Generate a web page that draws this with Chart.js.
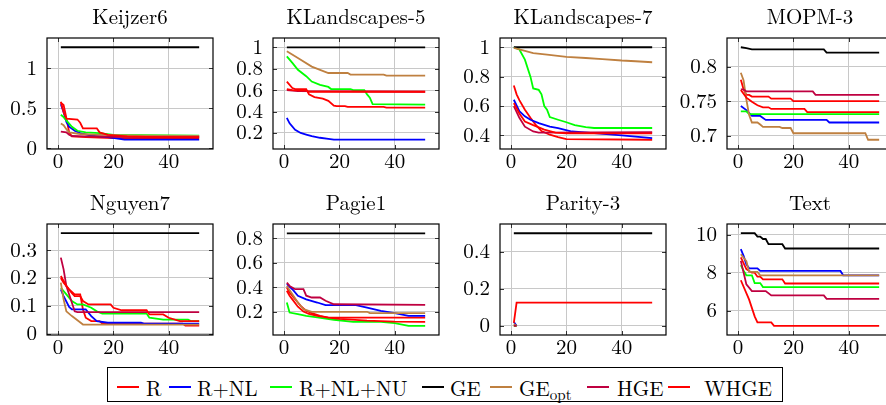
<!DOCTYPE html>
<html><head><meta charset="utf-8">
<script src="https://cdn.jsdelivr.net/npm/chart.js@4"></script>
<style>
html,body{margin:0;padding:0;width:886px;height:405px;overflow:hidden;background:#fff;font-family:'Latin Modern Roman','CMU Serif','Liberation Serif','DejaVu Serif','Noto Serif','FreeSerif','Nimbus Roman','TeX Gyre Termes','Times New Roman',Times,serif;position:relative;}
canvas.pan{position:absolute;}
#legend{position:absolute;left:107px;top:367px;width:676px;height:35px;border:1px solid #000;box-sizing:border-box;}
.sw{position:absolute;top:18px;height:2px;width:22px;}
.lt{position:absolute;top:9px;font-size:21px;line-height:21px;color:#000;white-space:nowrap;}
.lt .sb{font-size:15px;line-height:0;vertical-align:baseline;position:relative;top:4px;}
</style>
</head><body>
<div id="legend">
  <div class="sw" style="left:9px;background:#ff0000"></div><div class="lt" style="left:38px">R</div>
  <div class="sw" style="left:61px;background:#0000ff"></div><div class="lt" style="left:89px">R+NL</div>
  <div class="sw" style="left:162px;background:#00ff00"></div><div class="lt" style="left:191px">R+NL+NU</div>
  <div class="sw" style="left:314px;background:#000000"></div><div class="lt" style="left:342px">GE</div>
  <div class="sw" style="left:382px;background:#bf8040"></div><div class="lt" style="left:411px">GE<span class="sb">opt</span></div>
  <div class="sw" style="left:479px;background:#bf0040"></div><div class="lt" style="left:509px">HGE</div>
  <div class="sw" style="left:560px;background:#ff0000"></div><div class="lt" style="left:596px">WHGE</div>
</div>
<script>
// ---------- data ----------
const seriesNames = ['R','R+NL','R+NL+NU','GE','GE_opt','HGE','WHGE'];
const titles = ['Keijzer6','KLandscapes-5','KLandscapes-7','MOPM-3','Nguyen7','Pagie1','Parity-3','Text'];
const xTicks = [0,20,40];
const yTicks = [[0,0.5,1],[0.2,0.4,0.6,0.8,1],[0.4,0.6,0.8,1],[0.7,0.75,0.8],[0,0.1,0.2,0.3],[0.2,0.4,0.6,0.8],[0,0.2,0.4],[6,8,10]];
const yTickLabels = [['0','0.5','1'],['0.2','0.4','0.6','0.8','1'],['0.4','0.6','0.8','1'],['0.7','0.75','0.8'],['0','0.1','0.2','0.3'],['0.2','0.4','0.6','0.8'],['0','0.2','0.4'],['6','8','10']];
const yLimits = [[-0.007,1.375],[0.05,1.087],[0.308,1.063],[0.6806,0.8414],[-0.005,0.394],[0.008,0.917],[-0.05,0.55],[4.72,10.56]];
const xLimits = [-4,56];

// Keijzer6
const k6_R     = [[1,0.57],[2,0.54],[3,0.38],[4,0.2],[5,0.15],[10,0.14],[20,0.13],[51,0.125]];
const k6_RNL   = [[1,0.55],[2,0.45],[3,0.33],[4,0.27],[6,0.22],[8,0.19],[12,0.16],[18,0.14],[24,0.11],[51,0.11]];
const k6_RNLNU = [[1,0.42],[2,0.39],[3,0.35],[5,0.27],[7,0.22],[10,0.2],[15,0.19],[20,0.17],[30,0.165],[51,0.16]];
const k6_GE    = [[1,1.26],[51,1.26]];
const k6_GEopt = [[1,0.31],[2,0.29],[3,0.24],[4,0.2],[8,0.18],[15,0.17],[30,0.16],[51,0.155]];
const k6_HGE   = [[1,0.21],[3,0.2],[4,0.17],[5,0.155],[10,0.15],[20,0.145],[51,0.14]];
const k6_WHGE  = [[1,0.58],[2,0.45],[3,0.37],[7,0.36],[8,0.32],[9,0.25],[14,0.25],[15,0.2],[18,0.17],[25,0.15],[35,0.14],[51,0.14]];

// KLandscapes-5
const kl5_R     = [[1,0.68],[3,0.62],[4,0.61],[8,0.61],[9,0.56],[11,0.535],[14,0.52],[16,0.5],[18,0.455],[19,0.45],[22,0.45],[23,0.443],[36,0.443],[37,0.436],[51,0.436]];
const kl5_RNL   = [[1,0.34],[2,0.29],[4,0.23],[6,0.2],[8,0.185],[10,0.17],[13,0.155],[16,0.145],[18,0.137],[51,0.137]];
const kl5_RNLNU = [[1,0.916],[3,0.854],[5,0.79],[8,0.73],[10,0.68],[13,0.65],[16,0.63],[17,0.61],[24,0.61],[25,0.6],[29,0.6],[30,0.56],[31,0.53],[32,0.47],[51,0.465]];
const kl5_GE    = [[1,1.0],[51,1.0]];
const kl5_GEopt = [[1,0.963],[5,0.9],[10,0.82],[13,0.79],[16,0.76],[23,0.76],[24,0.745],[36,0.745],[37,0.735],[51,0.735]];
const kl5_HGE   = [[1,0.6],[3,0.595],[5,0.59],[51,0.585]];
const kl5_WHGE  = [[1,0.61],[3,0.6],[5,0.598],[8,0.596],[9,0.585],[51,0.585]];

// KLandscapes-7
const kl7_R     = [[1,0.74],[2,0.68],[3,0.64],[5,0.575],[7,0.52],[9,0.47],[11,0.43],[14,0.405],[17,0.389],[20,0.375],[51,0.371]];
const kl7_RNL   = [[1,0.643],[3,0.565],[5,0.53],[7,0.507],[10,0.484],[14,0.46],[17,0.45],[22,0.427],[30,0.416],[40,0.4],[51,0.382]];
const kl7_RNLNU = [[1,1.0],[3,0.985],[5,0.916],[7,0.8],[8,0.72],[10,0.71],[11,0.68],[12,0.6],[13,0.575],[14,0.525],[17,0.507],[20,0.49],[23,0.47],[27,0.457],[30,0.451],[51,0.451]];
const kl7_GE    = [[1,1.0],[51,1.0]];
const kl7_GEopt = [[1,0.995],[3,0.985],[8,0.96],[13,0.95],[20,0.934],[27,0.927],[33,0.92],[40,0.91],[45,0.905],[51,0.898]];
const kl7_HGE   = [[1,0.6],[3,0.52],[5,0.46],[8,0.427],[10,0.42],[51,0.423]];
const kl7_WHGE  = [[1,0.62],[3,0.55],[5,0.495],[8,0.47],[12,0.44],[16,0.42],[20,0.415],[51,0.414]];

// MOPM-3
const mo_R     = [[1,0.781],[2,0.767],[3,0.759],[4,0.759],[5,0.7565],[11,0.7565],[12,0.7536],[19,0.7536],[20,0.75],[51,0.75]];
const mo_RNL   = [[1,0.743],[3,0.737],[5,0.7285],[8,0.7285],[10,0.7227],[32,0.7227],[33,0.719],[51,0.719]];
const mo_RNLNU = [[1,0.735],[3,0.735],[4,0.731],[51,0.731]];
const mo_GE    = [[1,0.828],[3,0.8266],[5,0.825],[31,0.825],[32,0.8203],[51,0.8203]];
const mo_GEopt = [[1,0.791],[2,0.78],[3,0.752],[4,0.73],[5,0.719],[7,0.719],[8,0.716],[9,0.7126],[15,0.7126],[16,0.711],[19,0.711],[20,0.7034],[46,0.7034],[47,0.694],[51,0.694]];
const mo_HGE   = [[1,0.767],[2,0.767],[3,0.764],[27,0.764],[28,0.759],[51,0.759]];
const mo_WHGE  = [[1,0.766],[3,0.755],[5,0.749],[7,0.744],[9,0.741],[11,0.741],[12,0.7386],[24,0.7386],[25,0.734],[51,0.734]];

// Nguyen7
const ng_R     = [[1,0.2],[2,0.183],[4,0.159],[6,0.141],[8,0.141],[9,0.087],[10,0.057],[12,0.045],[15,0.045],[16,0.036],[45,0.036],[46,0.029],[51,0.029]];
const ng_RNL   = [[1,0.159],[2,0.135],[4,0.096],[5,0.087],[10,0.087],[12,0.063],[14,0.045],[18,0.039],[30,0.039],[31,0.036],[51,0.036]];
const ng_RNLNU = [[1,0.165],[3,0.141],[5,0.117],[7,0.105],[9,0.105],[12,0.093],[14,0.08],[16,0.072],[32,0.072],[33,0.057],[38,0.05],[47,0.05],[48,0.045],[51,0.045]];
const ng_GE    = [[1,0.361],[51,0.361]];
const ng_GEopt = [[1,0.183],[2,0.123],[3,0.08],[5,0.063],[7,0.048],[9,0.0325],[51,0.0325]];
const ng_HGE   = [[1,0.273],[2,0.231],[3,0.171],[5,0.111],[6,0.08],[7,0.077],[51,0.077]];
const ng_WHGE  = [[1,0.207],[3,0.171],[5,0.145],[6,0.135],[8,0.135],[9,0.117],[11,0.105],[19,0.105],[20,0.093],[23,0.084],[32,0.084],[33,0.069],[38,0.069],[40,0.057],[44,0.045],[51,0.045]];

// Pagie1
const pa_R     = [[1,0.397],[2,0.356],[4,0.301],[6,0.247],[8,0.206],[10,0.187],[13,0.165],[16,0.15],[51,0.15]];
const pa_RNL   = [[1,0.424],[3,0.383],[5,0.329],[8,0.3],[12,0.274],[15,0.252],[26,0.252],[30,0.233],[35,0.206],[40,0.187],[45,0.165],[51,0.165]];
const pa_RNLNU = [[1,0.274],[2,0.192],[5,0.179],[8,0.165],[12,0.152],[18,0.133],[25,0.116],[35,0.116],[40,0.105],[45,0.083],[51,0.083]];
const pa_GE    = [[1,0.841],[51,0.841]];
const pa_GEopt = [[1,0.41],[3,0.342],[5,0.274],[7,0.22],[10,0.198],[30,0.198],[31,0.187],[51,0.187]];
const pa_HGE   = [[1,0.437],[2,0.41],[4,0.383],[7,0.383],[8,0.33],[10,0.315],[13,0.315],[15,0.288],[18,0.26],[51,0.255]];
const pa_WHGE  = [[1,0.37],[2,0.33],[3,0.3],[5,0.24],[7,0.2],[9,0.18],[12,0.165],[16,0.15],[20,0.14],[30,0.126],[40,0.118],[51,0.116]];

// Parity-3
const pr_R     = [[1,0],[2,0]];
const pr_RNL   = [[1,0.02],[2,0]];
const pr_RNLNU = [[1,0],[2,0]];
const pr_GE    = [[1,0.5],[51,0.5]];
const pr_GEopt = [[1,0.01],[2,0]];
const pr_HGE   = [[1,0],[2,0]];
const pr_WHGE  = [[1,0.015],[2,0.125],[51,0.125]];

// Text
const tx_R     = [[1,8.8],[3,8.18],[5,8.0],[6,8.0],[7,7.79],[8,7.79],[9,7.65],[16,7.65],[17,7.43],[51,7.43]];
const tx_RNL   = [[1,9.24],[2,8.88],[3,8.44],[4,8.23],[7,8.23],[8,8.09],[37,8.09],[38,7.86],[51,7.86]];
const tx_RNLNU = [[1,8.4],[2,8.1],[3,7.86],[5,7.86],[6,7.45],[8,7.45],[9,7.24],[51,7.24]];
const tx_GE    = [[1,10.08],[6,10.08],[7,9.9],[8,9.9],[9,9.77],[10,9.77],[11,9.5],[16,9.5],[17,9.27],[51,9.27]];
const tx_GEopt = [[1,8.97],[3,8.6],[4,8.04],[7,8.04],[8,7.86],[51,7.86]];
const tx_HGE   = [[1,8.62],[3,7.38],[5,7.03],[10,7.03],[12,6.8],[31,6.8],[32,6.62],[51,6.62]];
const tx_WHGE  = [[1,7.6],[4,6.58],[6,5.7],[7,5.38],[12,5.38],[13,5.2],[51,5.2]];

const panelSeries = [
  [k6_R,k6_RNL,k6_RNLNU,k6_GE,k6_GEopt,k6_HGE,k6_WHGE],
  [kl5_R,kl5_RNL,kl5_RNLNU,kl5_GE,kl5_GEopt,kl5_HGE,kl5_WHGE],
  [kl7_R,kl7_RNL,kl7_RNLNU,kl7_GE,kl7_GEopt,kl7_HGE,kl7_WHGE],
  [mo_R,mo_RNL,mo_RNLNU,mo_GE,mo_GEopt,mo_HGE,mo_WHGE],
  [ng_R,ng_RNL,ng_RNLNU,ng_GE,ng_GEopt,ng_HGE,ng_WHGE],
  [pa_R,pa_RNL,pa_RNLNU,pa_GE,pa_GEopt,pa_HGE,pa_WHGE],
  [pr_R,pr_RNL,pr_RNLNU,pr_GE,pr_GEopt,pr_HGE,pr_WHGE],
  [tx_R,tx_RNL,tx_RNLNU,tx_GE,tx_GEopt,tx_HGE,tx_WHGE]
];

// ---------- styles / layout ----------
const colors = ['#ff0000','#0000ff','#00ff00','#000000','#bf8040','#bf0040','#ff0000'];
const FONT = "'Latin Modern Roman', 'CMU Serif', 'Liberation Serif', 'DejaVu Serif', 'Noto Serif', 'FreeSerif', 'Nimbus Roman', 'TeX Gyre Termes', 'Times New Roman', Times, serif";
const colLeft = [47,273,500,727];
const rowTop = [38,224];
const PW = 166, PH = 111, AXW = 47, TITLEH = 33, XAXH = 28;

const framePlugin = {
  id:'frame',
  beforeDatasetsDraw(chart){
    const {ctx, chartArea:a, scales} = chart;
    ctx.save();
    ctx.strokeStyle = '#333'; ctx.lineWidth = 1;
    ctx.beginPath();
    scales.x.ticks.forEach(t=>{
      const p = Math.round(scales.x.getPixelForValue(t.value))+0.5;
      ctx.moveTo(p,a.bottom); ctx.lineTo(p,a.bottom-4);
      ctx.moveTo(p,a.top); ctx.lineTo(p,a.top+4);
    });
    scales.y.ticks.forEach(t=>{
      const p = Math.round(scales.y.getPixelForValue(t.value))+0.5;
      ctx.moveTo(a.left,p); ctx.lineTo(a.left+4,p);
      ctx.moveTo(a.right,p); ctx.lineTo(a.right-4,p);
    });
    ctx.stroke();
    ctx.restore();
  },
  afterDraw(chart){
    const {ctx, chartArea:a} = chart;
    ctx.save();
    ctx.strokeStyle = '#000'; ctx.lineWidth = 1.2;
    ctx.strokeRect(a.left, a.top, a.right-a.left, a.bottom-a.top);
    ctx.restore();
  }
};

function build(){
titles.forEach((title, i) => {
  const col = i % 4, row = Math.floor(i / 4);
  const L = colLeft[col], T = rowTop[row];
  const cv = document.createElement('canvas');
  cv.className = 'pan';
  const w = AXW + PW + AXW, h = TITLEH + PH + XAXH;
  cv.width = w; cv.height = h;
  cv.style.left = (L - AXW) + 'px';
  cv.style.top = (T - TITLEH) + 'px';
  cv.style.width = w + 'px'; cv.style.height = h + 'px';
  document.body.appendChild(cv);
  const yt = yTicks[i], ytl = yTickLabels[i];
  new Chart(cv.getContext('2d'), {
    type: 'line',
    data: {
      datasets: panelSeries[i].map((d, k) => ({
        label: seriesNames[k],
        data: d.map(p => ({x: p[0], y: p[1]})),
        borderColor: colors[k],
        backgroundColor: colors[k],
        borderWidth: 1.8,
        pointRadius: 0,
        fill: false,
        tension: 0,
        order: 6 - k,
        yAxisID: 'y'
      }))
    },
    options: {
      responsive: false,
      animation: false,
      devicePixelRatio: 1,
      events: [],
      layout: {padding: 0},
      plugins: {
        legend: {display: false},
        tooltip: {enabled: false},
        title: {display: true, text: title, color: '#000',
                font: {family: FONT, size: 21, weight: 'normal', lineHeight: 1.2},
                padding: {top: 0, bottom: 7.8}}
      },
      scales: {
        x: {
          type: 'linear', min: xLimits[0], max: xLimits[1],
          afterBuildTicks: s => { s.ticks = xTicks.map(v => ({value: v})); },
          afterFit: s => { s.height = XAXH; },
          grid: {color: '#c8c8c8', lineWidth: 1, drawTicks: false},
          border: {display: false},
          ticks: {padding: 0, color: '#000', maxRotation: 0, autoSkip: false,
                  font: {family: FONT, size: 21, lineHeight: 1.2},
                  callback: v => String(v)}
        },
        y: {
          type: 'linear', position: 'left', min: yLimits[i][0], max: yLimits[i][1],
          afterBuildTicks: s => { s.ticks = yt.map(v => ({value: v})); },
          afterFit: s => { s.width = AXW; },
          grid: {color: '#c8c8c8', lineWidth: 1, drawTicks: false},
          border: {display: false},
          ticks: {padding: 10, color: '#000', autoSkip: false,
                  font: {family: FONT, size: 21, lineHeight: 1.2},
                  callback: v => { const j = yt.indexOf(v); return j >= 0 ? ytl[j] : ''; }}
        },
        yr: {
          type: 'linear', position: 'right', display: true, min: 0, max: 1,
          afterFit: s => { s.width = AXW; },
          grid: {display: false, drawOnChartArea: false, drawTicks: false},
          border: {display: false},
          ticks: {display: false}
        }
      }
    },
    plugins: [framePlugin]
  });
});
}
build();
</script>
</body></html>
